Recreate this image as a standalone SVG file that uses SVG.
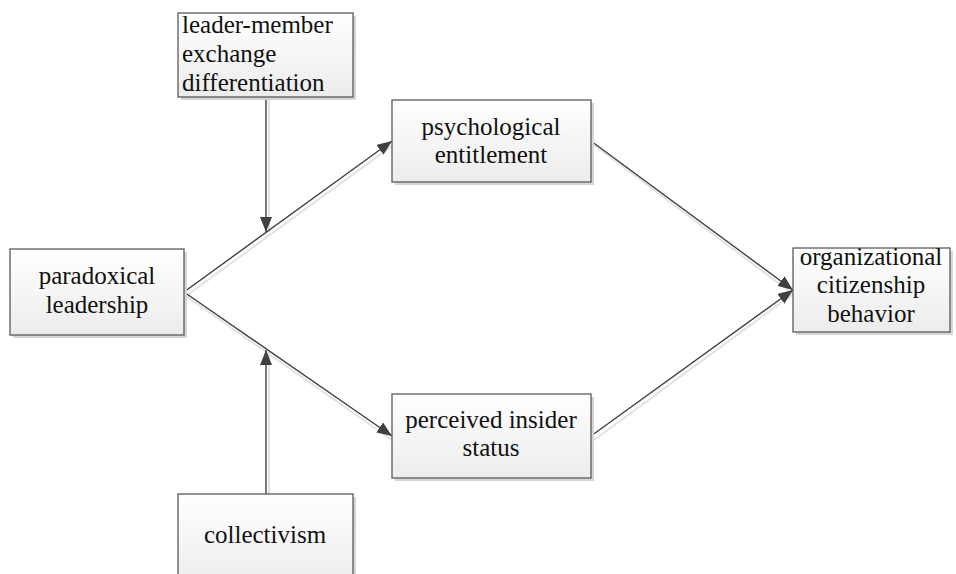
<svg xmlns="http://www.w3.org/2000/svg" width="956" height="574" viewBox="0 0 956 574">
<style>
.box{fill:url(#g);stroke:#5a5a5a;stroke-width:1.3}
.sh{fill:#d6d6d6}
text{font-family:'Liberation Serif','Times New Roman',serif;font-size:25px;fill:#111}
.c{text-anchor:middle}
.ln{stroke:#404040;stroke-width:1.4;fill:none;marker-end:url(#ah)}
.lsh{stroke:#e2e2e2;stroke-width:2;fill:none}
</style>
<defs>
<linearGradient id="g" x1="0" y1="0" x2="0" y2="1">
<stop offset="0" stop-color="#ffffff"/>
<stop offset="1" stop-color="#ececec"/>
</linearGradient>
<marker id="ah" markerUnits="userSpaceOnUse" markerWidth="16" markerHeight="12" refX="15" refY="6" orient="auto">
<path d="M0,0 L15,6 L0,12 Z" fill="#404040"/>
</marker>
</defs>
<rect width="956" height="574" fill="#ffffff"/>
<g id="connectors">
<line class="lsh" x1="269" y1="100" x2="269" y2="232"/>
<line class="lsh" x1="269" y1="497" x2="269" y2="352"/>
<line class="lsh" x1="186" y1="296" x2="392" y2="146"/>
<line class="lsh" x1="186" y1="296" x2="392" y2="440"/>
<line class="lsh" x1="594" y1="145" x2="793" y2="294"/>
<line class="lsh" x1="594" y1="440" x2="793" y2="294"/>
<line class="ln" x1="266" y1="97" x2="266" y2="232"/>
<line class="ln" x1="266" y1="494" x2="266" y2="350"/>
<line class="ln" x1="184" y1="292" x2="392" y2="141"/>
<line class="ln" x1="184" y1="292" x2="392" y2="436"/>
<line class="ln" x1="591" y1="141" x2="793" y2="290"/>
<line class="ln" x1="591" y1="436" x2="793" y2="290"/>
</g>
<g id="lmx">
<rect class="sh" x="181" y="16" width="175" height="84"/>
<rect class="box" x="178" y="13" width="175" height="84"/>
<text x="182" y="33">leader-member</text>
<text x="182" y="62">exchange</text>
<text x="182" y="91">differentiation</text>
</g>
<g id="paradoxical">
<rect class="sh" x="13" y="252" width="174" height="86"/>
<rect class="box" x="10" y="249" width="174" height="86"/>
<text class="c" x="97" y="284">paradoxical</text>
<text class="c" x="97" y="313">leadership</text>
</g>
<g id="psych">
<rect class="sh" x="395" y="103" width="199" height="82"/>
<rect class="box" x="392" y="100" width="199" height="82"/>
<text class="c" x="491" y="135">psychological</text>
<text class="c" x="491" y="163">entitlement</text>
</g>
<g id="insider">
<rect class="sh" x="395" y="397" width="199" height="84"/>
<rect class="box" x="392" y="394" width="199" height="84"/>
<text class="c" x="491" y="428">perceived insider</text>
<text class="c" x="491" y="456">status</text>
</g>
<g id="ocb">
<rect class="sh" x="796" y="251" width="157" height="84"/>
<rect class="box" x="793" y="248" width="157" height="84"/>
<text class="c" x="871" y="265">organizational</text>
<text class="c" x="871" y="293">citizenship</text>
<text class="c" x="871" y="322">behavior</text>
</g>
<g id="collectivism">
<rect class="sh" x="181" y="497" width="175" height="90"/>
<rect class="box" x="178" y="494" width="175" height="90"/>
<text class="c" x="265" y="543">collectivism</text>
</g>
</svg>
